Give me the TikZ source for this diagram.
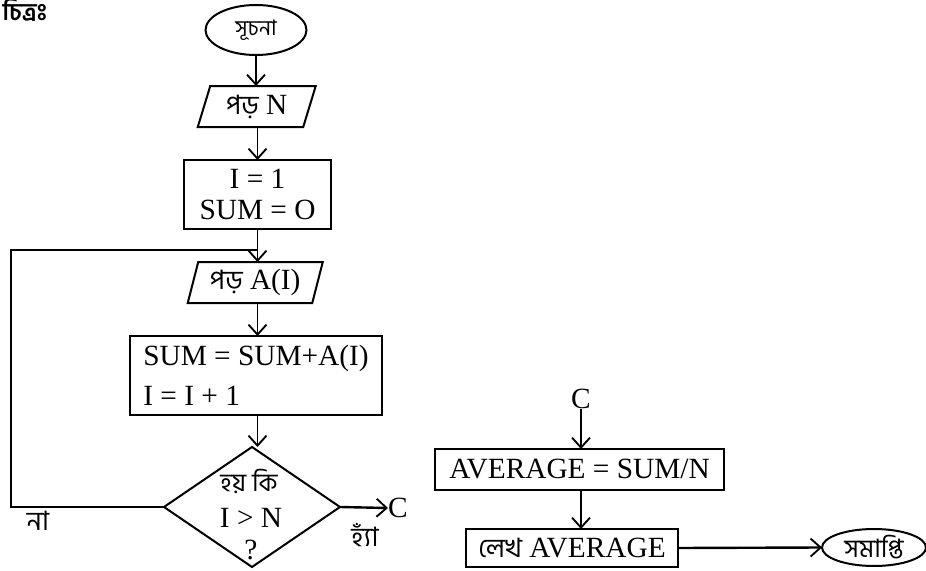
\documentclass[tikz,border=0pt]{standalone}
\usepackage{fontspec}
\setmainfont{Liberation Serif}
\newfontfamily\bn[Script=Bengali]{Hind Siliguri}
\usetikzlibrary{shapes.geometric,arrows.meta,calc}
\begin{document}
\begin{tikzpicture}[x=0.75pt,y=-0.75pt,
  font=\fontsize{22}{26}\selectfont,
  box/.style={draw, line width=1.5pt, inner sep=0pt, outer sep=0pt},
  plain/.style={inner sep=0pt, outer sep=0pt},
  oval/.style={ellipse, draw, line width=1.5pt, inner sep=0pt, outer sep=0pt},
  pline/.style={line width=1.5pt, line join=miter},
  arr/.style={line width=1pt, -{Straight Barb[length=7.5pt,width=13.5pt,line width=1.4pt]}},
  harr/.style={arr, line width=1.8pt},
  loopl/.style={line width=2pt},
  bnt/.style={font=\fontsize{20}{24}\selectfont\bn},
  dia/.style={diamond, draw, line width=1.5pt, minimum width=132pt, minimum height=90pt, inner sep=0pt, outer sep=0pt}]
\useasboundingbox (0,0) rectangle (926,571);

% title (cut at the left edge)
\node[plain, anchor=east, font=\fontsize{18}{20}\selectfont\bn\bfseries] (title) at (47,10) {চিত্রঃ};

% left flow
\node[oval, minimum width=75.75pt, minimum height=37.5pt, font=\fontsize{16}{20}\selectfont\bn] (start) at (256,30) {সূচনা};

\node[plain, minimum width=79.1pt, minimum height=30.75pt] (p1) at (256.75,106.5) {{\bn\fontsize{20}{24}\selectfont পড়} N};
\draw[pline] ($(p1.south west)+(-6.25,0)$) -- ($(p1.south east)+(-6.25,0)$) -- ($(p1.north east)+(6.25,0)$) -- ($(p1.north west)+(6.25,0)$) -- cycle;

\node[box, minimum width=110.25pt, minimum height=51.75pt, align=center, font=\fontsize{22}{23}\selectfont] (b1) at (257.5,194.5) {I = 1\\SUM = O};

\node[plain, minimum width=93.4pt, minimum height=30.75pt] (p2) at (255.25,282.5) {{\bn\fontsize{20}{24}\selectfont পড়} A(I)};
\draw[pline] ($(p2.south west)+(-5.25,0)$) -- ($(p2.south east)+(-5.25,0)$) -- ($(p2.north east)+(5.25,0)$) -- ($(p2.north west)+(5.25,0)$) -- cycle;

\node[box, minimum width=189pt, minimum height=59.25pt, align=left, font=\fontsize{22}{30}\selectfont] (b2) at (256,375.5) {SUM = SUM+A(I)\\I = I + 1};

\node[dia] (d) at (252,507) {};
\node[plain, font=\fontsize{19}{22}\selectfont\bn] (dt1) at (249,481) {হয় কি};
\node[plain] (dt2) at (251,518) {I {\textgreater} N};
\node[plain] (dt3) at (251,550) {?};

\node[plain, anchor=west] (c1) at (388,508) {C};
\node[plain, bnt] (yes) at (365,535) {হ্যাঁ};
\node[plain, bnt] (no) at (38,521) {না};

\coordinate (j) at (b1.south |- 0,250);

\draw[arr] (start.south) -- (p1.north -| start.south);
\draw[arr] (p1.south -| b1.north) -- (b1.north);
\draw[arr] (b1.south) -- (b1.south |- p2.north);
\draw[arr] (b1.south |- p2.south) -- (b1.south |- b2.north);
\draw[arr] (b1.south |- b2.south) -- (b1.south |- d.north);
\draw[harr] (d.east) -- (c1.west);
\draw[loopl] (d.west) -- (11,507) -- (11,250) -- (j);

% right flow
\node[plain] (c2) at (581,399) {C};
\node[box, minimum width=216.75pt, minimum height=30.75pt] (b3) at (579.5,469.5) {AVERAGE = SUM/N};
\node[box, minimum width=159pt, minimum height=28.5pt] (b4) at (572,548) {{\bn\fontsize{20}{24}\selectfont লেখ} AVERAGE};
\node[oval, minimum width=78pt, minimum height=27.75pt, font=\fontsize{19}{22}\selectfont\bn] (stop) at (874,547.5) {সমাপ্তি};

\draw[arr] (c2.south) -- (c2.south |- b3.north);
\draw[arr] (c2.south |- b3.south) -- (c2.south |- b4.north);
\draw[harr] (b4.east) -- (stop.west);
\end{tikzpicture}
\end{document}
